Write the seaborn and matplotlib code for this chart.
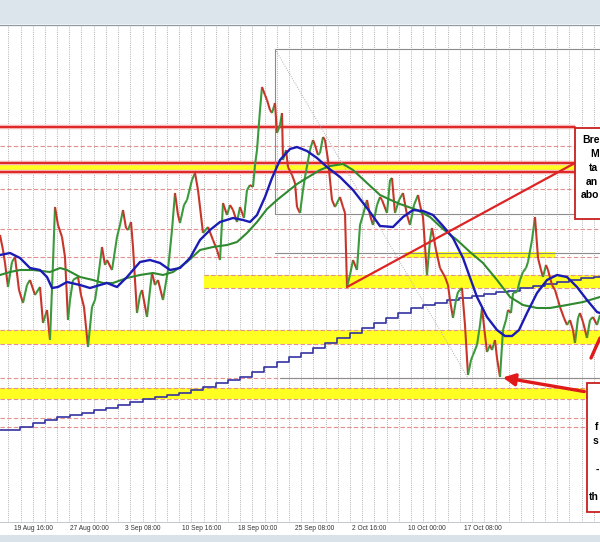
import numpy as np
import matplotlib
matplotlib.use("Agg")
import matplotlib.pyplot as plt
from matplotlib.collections import LineCollection
from matplotlib.patches import Rectangle
import pandas as pd
import seaborn as sns

# x = position along the chart, y = price level
tick_pos = [33, 89, 143, 202, 258, 315, 369, 427, 483]
tick_lbl = ["19 Aug 16:00", "27 Aug 00:00", "3 Sep 08:00", "10 Sep 16:00",
            "18 Sep 00:00", "25 Sep 08:00", "2 Oct 16:00", "10 Oct 00:00",
            "17 Oct 08:00"]

price_x = [0, 3, 5, 8, 12, 15, 19, 23, 27, 30,
           35, 40, 43, 47, 50, 53, 55, 58, 62, 65,
           68, 70, 73, 78, 81, 84, 88, 92, 95, 97,
           102, 105, 107, 112, 117, 120, 123, 126, 128, 131,
           133, 137, 140, 142, 147, 150, 152, 155, 158, 163,
           168, 172, 175, 178, 180, 184, 187, 192, 195, 198,
           200, 203, 208, 213, 217, 220, 223, 227, 230, 233,
           237, 240, 244, 247, 250, 253, 255, 257, 260, 262,
           265, 267, 270, 272, 275, 277, 280, 282, 283, 286,
           288, 292, 295, 297, 300, 303, 305, 310, 313, 315,
           318, 320, 323, 325, 328, 332, 335, 340, 343, 345,
           347, 350, 353, 357, 360, 363, 367, 370, 373, 377,
           380, 382, 387, 390, 392, 395, 399, 403, 407, 410,
           414, 418, 420, 423, 427, 430, 432, 436, 440, 445,
           448, 450, 453, 456, 458, 462, 465, 468, 471, 473,
           477, 480, 482, 485, 487, 490, 492, 495, 497, 500,
           503, 506, 508, 511, 513, 517, 520, 523, 526, 528,
           532, 535, 538, 541, 543, 546, 548, 552, 555, 558,
           560, 564, 567, 570, 573, 575, 578, 580, 583, 587,
           590, 593, 597, 600]
price_y = [365, 350, 337, 313, 338, 343, 310, 297, 315, 320,
           305, 313, 277, 290, 260, 337, 393, 375, 363, 343,
           280, 300, 320, 323, 305, 293, 253, 293, 300, 313,
           353, 335, 340, 330, 363, 375, 390, 372, 370, 378,
           353, 287, 305, 310, 283, 310, 327, 315, 320, 300,
           330, 370, 407, 385, 377, 395, 400, 420, 427, 410,
           393, 367, 373, 360, 350, 340, 397, 385, 395, 390,
           378, 393, 382, 410, 415, 413, 435, 450, 490, 513,
           505, 500, 490, 487, 497, 467, 475, 487, 440, 450,
           433, 425, 417, 393, 387, 410, 423, 450, 460, 455,
           445, 447, 463, 460, 440, 400, 393, 403, 393, 387,
           313, 325, 340, 330, 375, 385, 400, 385, 375, 395,
           403, 400, 387, 420, 422, 387, 400, 407, 385, 375,
           395, 405, 395, 383, 325, 360, 372, 350, 332, 323,
           315, 300, 282, 300, 308, 312, 275, 225, 240, 245,
           255, 275, 292, 265, 248, 255, 250, 260, 242, 223,
           270, 280, 290, 287, 307, 308, 320, 328, 332, 338,
           360, 383, 342, 330, 323, 335, 330, 315, 310, 300,
           293, 282, 275, 280, 270, 257, 282, 287, 278, 262,
           280, 283, 275, 285]

ma_fast_x = [0, 10, 20, 30, 40, 47, 52, 58, 67, 80, 90, 100, 107, 117, 127,
             140, 150, 160, 170, 180, 190, 200, 210, 220, 233, 243, 250, 257,
             265, 272, 280, 290, 297, 307, 317, 327, 340, 353, 367, 380, 393,
             403, 413, 423, 433, 443, 453, 463, 477, 487, 497, 505, 512, 519,
             527, 537, 547, 557, 567, 577, 587, 597, 600]
ma_fast_y = [345, 347, 342, 332, 330, 323, 312, 313, 318, 315, 312, 315, 317,
             313, 323, 338, 340, 337, 330, 332, 342, 360, 370, 378, 382, 380,
             378, 385, 403, 422, 440, 451, 453, 449, 442, 433, 423, 410, 392,
             374, 373, 383, 390, 389, 385, 374, 362, 342, 303, 283, 270, 264,
             264, 270, 287, 307, 320, 325, 323, 313, 300, 288, 287]

ma_slow_x = [0, 10, 20, 33, 50, 60, 67, 80, 93, 103, 113, 127, 140, 153, 163,
             173, 187, 200, 213, 227, 237, 247, 257, 267, 277, 287, 297, 310,
             320, 330, 343, 353, 367, 380, 393, 400, 417, 430, 443, 457, 470,
             483, 497, 510, 523, 537, 550, 567, 583, 600]
ma_slow_y = [325, 328, 330, 330, 328, 332, 330, 323, 320, 317, 317, 322, 325,
             327, 325, 328, 338, 350, 353, 355, 358, 367, 378, 391, 400, 408,
             416, 424, 430, 434, 436, 430, 417, 405, 399, 396, 390, 383, 371,
             360, 348, 337, 320, 303, 295, 292, 292, 295, 298, 303]

daily_x = [0, 20, 33, 45, 57, 70, 82, 94, 106, 118, 130, 143, 155, 167, 179,
           191, 203, 216, 228, 240, 252, 264, 277, 289, 301, 313, 325, 337,
           350, 362, 374, 386, 398, 411, 423, 435, 447, 459, 472, 484, 496,
           508, 520, 533, 545, 557, 569, 581, 594, 600]
daily_y = [170, 173, 177, 180, 183, 185, 187, 190, 192, 195, 198, 201, 203,
           205, 207, 210, 213, 217, 220, 223, 228, 233, 238, 243, 247, 252,
           257, 262, 267, 272, 277, 282, 287, 292, 295, 297, 300, 302, 304,
           306, 308, 309, 312, 314, 316, 318, 320, 322, 323, 323]

dashed_levels = [454, 411, 371, 343, 222, 182, 173]
yellow_zones = [(312, 325, 204, 600), (256, 270, 0, 600), (201, 212, 0, 600),
                (342, 348, 405, 555)]
ceiling_zone = (428, 437)
ceiling_line = 473
gray_levels = [(386, 275, 575), (347, 275, 600), (222, 280, 600), (551, 275, 600)]

# visible parts of the two notes (the rest lies outside the screenshot)
note1 = [("Bre", 582, 460), ("M", 590, 446), ("ta", 589, 432),
         ("an", 586, 418), ("abo", 580.5, 405)]
note2 = [("f", 595, 173), ("s", 593, 159), ("-", 596, 130), ("th", 589, 103)]

sns.set_theme(style="white")
plt.rcParams["font.family"] = ["Liberation Sans", "DejaVu Sans"]

fig = plt.figure(figsize=(6, 5.42), dpi=100)
fig.patch.set_facecolor("white")
ax = fig.add_axes([0, 20 / 542, 1, 497 / 542])
ax.set_xlim(0, 600)
ax.set_ylim(78, 575)

# daily vertical grid
ax.set_xticks(np.arange(8.3, 600, 12.2), minor=True)
ax.grid(which="minor", axis="x", color="#9a9a9a", lw=0.6, ls=(0, (1, 1.6)))
ax.grid(which="major", visible=False)

# zones
for lo, hi, x0, x1 in yellow_zones:
    ax.fill_between([x0, x1], lo, hi, color="#ffff22", lw=0, zorder=1)
    if x0 != 405:
        for lv in (lo, hi):
            ax.plot([x0, x1], [lv, lv], color="#e39090", lw=0.8, ls=(0, (4, 2)), zorder=2)
ax.fill_between([0, 575], ceiling_zone[0], ceiling_zone[1], color="#ffff22", lw=0, zorder=1)
for lv in (*ceiling_zone, ceiling_line):
    ax.plot([0, 575], [lv, lv], color="#f4b4b4", lw=3.2, zorder=2, solid_capstyle="butt")
    ax.plot([0, 575], [lv, lv], color="#dd1c1c", lw=1.3, zorder=2)
for lv in dashed_levels:
    ax.axhline(lv, color="#e39090", lw=0.8, ls=(0, (4, 2)), zorder=2)
for lv, x0, x1 in gray_levels:
    ax.plot([x0, x1], [lv, lv], color="#8c8c8c", lw=0.8, zorder=2)
ax.plot([275, 275], [386, 551], color="#8c8c8c", lw=0.8, zorder=2)
ax.plot([275, 468], [551, 222], color="#b0b0b0", lw=0.7, ls=(0, (1, 1.5)), zorder=2)

# daily MA (step)
sns.lineplot(data=pd.DataFrame({"x": daily_x, "y": daily_y}), x="x", y="y",
             drawstyle="steps-post", color="#3434a2", lw=1.2, ax=ax, zorder=3,
             estimator=None, sort=False)

# price
pts = np.column_stack([price_x, price_y])
segs = np.stack([pts[:-1], pts[1:]], axis=1)
cols = np.where(np.diff(price_y) > 0, "#3b9a3b", "#c8342a")
ax.add_collection(LineCollection(segs, colors=cols, linewidths=1.5, zorder=4))

# moving averages
sns.lineplot(data=pd.DataFrame({"x": ma_slow_x, "y": ma_slow_y}), x="x", y="y",
             color="#2f8a2f", lw=1.5, ax=ax, zorder=5, estimator=None, sort=False)
sns.lineplot(data=pd.DataFrame({"x": ma_fast_x, "y": ma_fast_y}), x="x", y="y",
             color="#1c1cb4", lw=1.7, ax=ax, zorder=5, estimator=None, sort=False)

# trendline and arrows
ax.plot([347, 575], [313, 437], color="#dd2424", lw=1.6, zorder=6)
ax.annotate("", xy=(500, 223), xytext=(587, 208),
            arrowprops=dict(arrowstyle="-|>,head_length=0.6,head_width=0.3",
                            color="#e01a1a", lw=2.4), zorder=8)
ax.plot([600, 591], [262, 242], color="#e01a1a", lw=2.4, zorder=8)

# note boxes
ax.add_patch(Rectangle((575, 381), 120, 91, facecolor="white", edgecolor="#c82020",
                       lw=1.3, zorder=7, clip_on=False))
ax.add_patch(Rectangle((587, 88), 110, 129, facecolor="white", edgecolor="#c82020",
                       lw=1.3, zorder=7, clip_on=False))
for txt, x, y in note1 + note2:
    ax.text(x, y, txt, fontsize=7.5, fontweight="bold", color="black",
            ha="left", va="center", zorder=9)

# axis labels
ax.set_xticks(tick_pos)
ax.set_xticklabels(tick_lbl, fontsize=4.8, color="#333333")
ax.tick_params(axis="x", length=0, pad=1.8)
ax.set_yticks([])
ax.set_xlabel("")
ax.set_ylabel("")
for side in ("left", "right"):
    ax.spines[side].set_visible(False)
ax.spines["top"].set_color("#8e99a6")
ax.spines["bottom"].set_color("#b7c0ca")
ax.spines["top"].set_linewidth(0.9)
ax.spines["bottom"].set_linewidth(0.6)

# window chrome
fig.add_artist(Rectangle((0, 1 - 24 / 542), 1, 24 / 542, transform=fig.transFigure,
                         facecolor="#dce4ec", edgecolor="none"))
fig.add_artist(Rectangle((0, 0), 1, 7 / 542, transform=fig.transFigure,
                         facecolor="#d9e1e9", edgecolor="none"))

fig.savefig("out.png", dpi=100)
